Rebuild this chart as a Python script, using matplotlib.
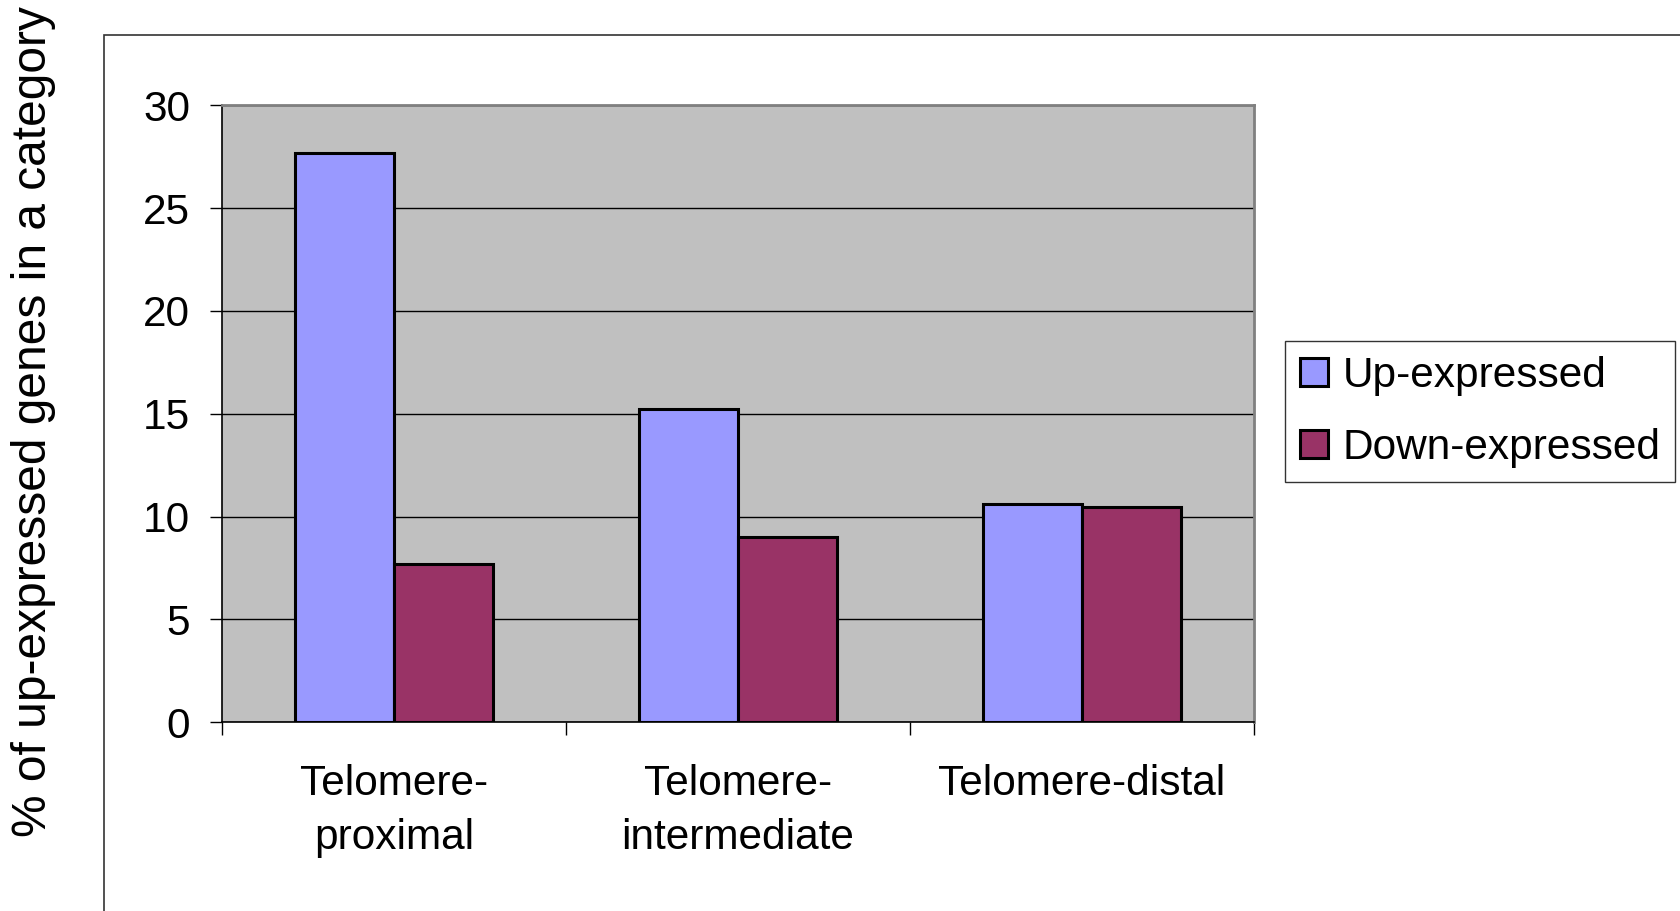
"""Grouped bar chart of up/down-expressed genes by telomere position."""

import matplotlib
matplotlib.use("Agg")
import matplotlib.pyplot as plt
import numpy as np
from matplotlib.patches import Rectangle

categories = ["Telomere-\nproximal", "Telomere-\nintermediate", "Telomere-distal"]
up_expressed = [27.7, 15.25, 10.6]
down_expressed = [7.7, 9.0, 10.45]
series_names = ["Up-expressed", "Down-expressed"]
y_ticks = [0, 5, 10, 15, 20, 25, 30]

plt.rcParams["font.family"] = ["Liberation Sans", "DejaVu Sans"]

fig = plt.figure(figsize=(16.81, 9.11), dpi=100)

# outer chart-area frame, runs off the right and bottom edges
fig.patches.append(Rectangle((0.0619, -0.05), 1.0, 1.0116, transform=fig.transFigure,
                             fill=False, edgecolor="#333333", linewidth=1.2))

ax = fig.add_axes([0.1321, 0.2071, 0.6139, 0.6773])
ax.set_facecolor("#c0c0c0")

x = np.arange(len(categories))
width = 0.287
ax.bar(x - width / 2, up_expressed, width, color="#9999ff", edgecolor="black",
       linewidth=2.2, label=series_names[0], zorder=3)
ax.bar(x + width / 2, down_expressed, width, color="#993366", edgecolor="black",
       linewidth=2.2, label=series_names[1], zorder=3)

ax.set_xlim(-0.5, len(categories) - 0.5)
ax.set_ylim(0, 30)
ax.set_yticks(y_ticks)
ax.yaxis.grid(True, color="black", linewidth=1.0, zorder=1)
ax.set_axisbelow(True)

# category labels centred, tick marks at the category boundaries
ax.set_xticks(x)
ax.set_xticklabels(categories, linespacing=1.45)
ax.set_xticks(np.arange(len(categories) + 1) - 0.5, minor=True)
ax.tick_params(axis="x", which="major", length=0, pad=30, labelsize=30.5)
ax.tick_params(axis="x", which="minor", length=9, width=1.0, direction="out")
ax.tick_params(axis="y", length=9, width=1.0, pad=14, labelsize=30.5)

for side in ("top", "right"):
    ax.spines[side].set_color("#808080")
    ax.spines[side].set_linewidth(2.0)
for side in ("left", "bottom"):
    ax.spines[side].set_color("black")
    ax.spines[side].set_linewidth(1.2)

fig.text(0.020, 0.537, "% of up-expressed genes in a category", rotation=90,
         ha="center", va="center", fontsize=34.5)

leg = fig.legend(loc="center", bbox_to_anchor=(0.8807, 0.548), fontsize=30.5,
                 frameon=True, fancybox=False, edgecolor="black", handlelength=0.65,
                 handleheight=0.65, handletextpad=0.35, labelspacing=0.75,
                 borderpad=0.35, borderaxespad=0)
leg.get_frame().set_linewidth(1.0)

fig.savefig("out.png", dpi=100)
